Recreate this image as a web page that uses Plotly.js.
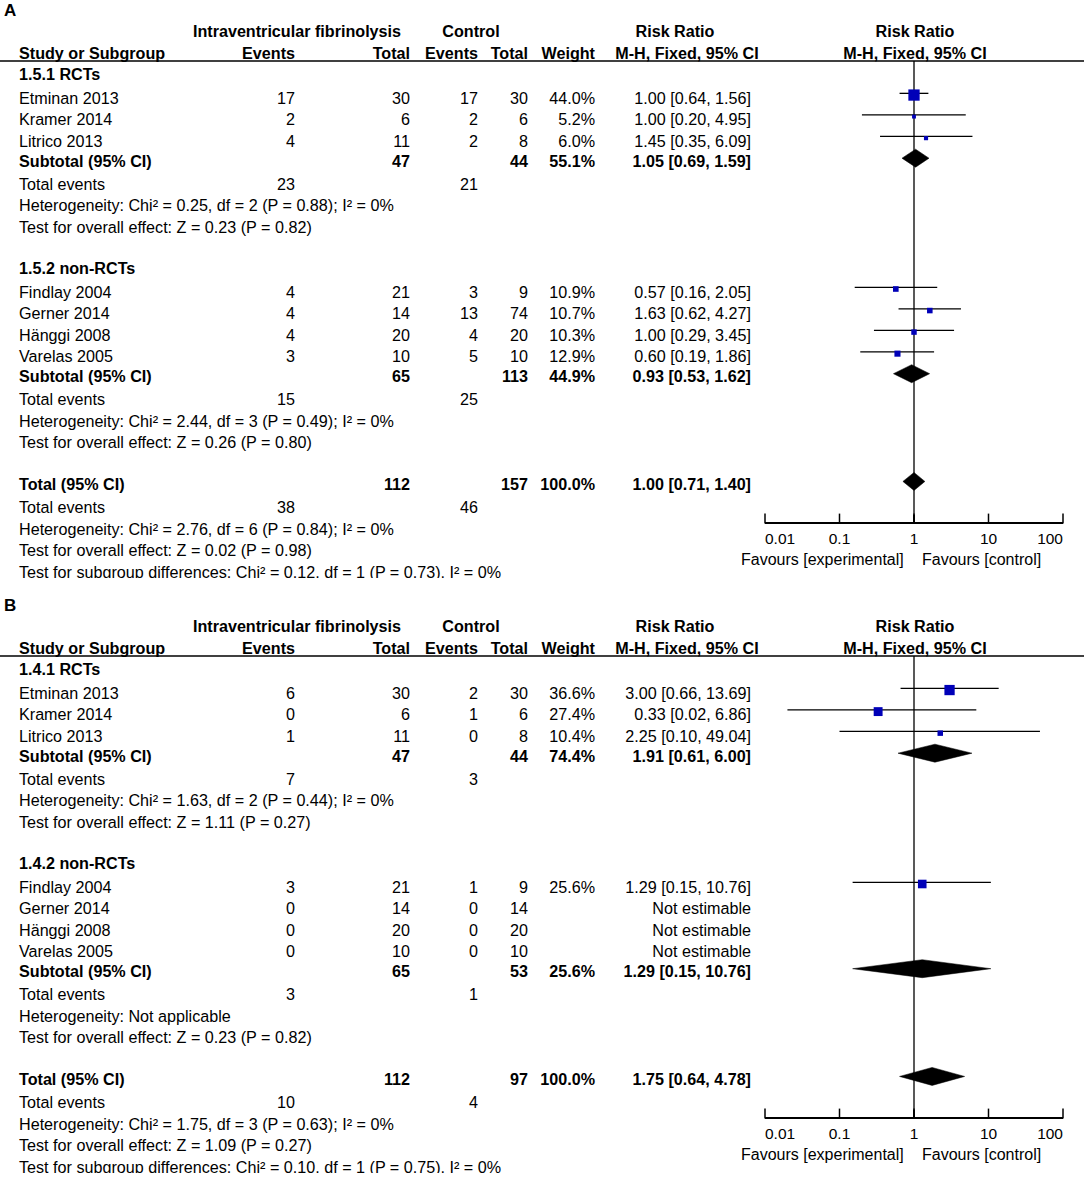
<!DOCTYPE html>
<html><head><meta charset="utf-8">
<script src="https://cdn.plot.ly/plotly-3.0.1.min.js"></script>
<style>html,body{margin:0;padding:0;background:#fff}#chart{width:1084px;height:1178px}</style>
</head><body><div id="chart"></div>
<script>
// ---------------- DATA ----------------
const studies = ['Etminan 2013','Kramer 2014','Litrico 2013','Findlay 2004','Gerner 2014','Hänggi 2008','Varelas 2005'];
const studyGroup = [0,0,0,1,1,1,1];

// Panel A
const groupLabelsA = ['1.5.1 RCTs','1.5.2 non-RCTs'];
const evExpA = [17,2,4,4,4,4,3];
const totExpA = [30,6,11,21,14,20,10];
const evCtlA = [17,2,2,3,13,4,5];
const totCtlA = [30,6,8,9,74,20,10];
const weightA = [44.0,5.2,6.0,10.9,10.7,10.3,12.9];
const rrA = [1.00,1.00,1.45,0.57,1.63,1.00,0.60];
const loA = [0.64,0.20,0.35,0.16,0.62,0.29,0.19];
const hiA = [1.56,4.95,6.09,2.05,4.27,3.45,1.86];
const subTotExpA = [47,65];
const subTotCtlA = [44,113];
const subWeightA = [55.1,44.9];
const subRrA = [1.05,0.93];
const subLoA = [0.69,0.53];
const subHiA = [1.59,1.62];
const subEvExpA = [23,15];
const subEvCtlA = [21,25];
const subHetA = ['Heterogeneity: Chi² = 0.25, df = 2 (P = 0.88); I² = 0%','Heterogeneity: Chi² = 2.44, df = 3 (P = 0.49); I² = 0%'];
const subZA = ['Test for overall effect: Z = 0.23 (P = 0.82)','Test for overall effect: Z = 0.26 (P = 0.80)'];
const totalA = {totExp:112, totCtl:157, weight:100.0, rr:1.00, lo:0.71, hi:1.40, evExp:38, evCtl:46,
  het:'Heterogeneity: Chi² = 2.76, df = 6 (P = 0.84); I² = 0%',
  z:'Test for overall effect: Z = 0.02 (P = 0.98)',
  sub:'Test for subgroup differences: Chi² = 0.12, df = 1 (P = 0.73), I² = 0%'};

// Panel B
const groupLabelsB = ['1.4.1 RCTs','1.4.2 non-RCTs'];
const evExpB = [6,0,1,3,0,0,0];
const totExpB = [30,6,11,21,14,20,10];
const evCtlB = [2,1,0,1,0,0,0];
const totCtlB = [30,6,8,9,14,20,10];
const weightB = [36.6,27.4,10.4,25.6,null,null,null];
const rrB = [3.00,0.33,2.25,1.29,null,null,null];
const loB = [0.66,0.02,0.10,0.15,null,null,null];
const hiB = [13.69,6.86,49.04,10.76,null,null,null];
const subTotExpB = [47,65];
const subTotCtlB = [44,53];
const subWeightB = [74.4,25.6];
const subRrB = [1.91,1.29];
const subLoB = [0.61,0.15];
const subHiB = [6.00,10.76];
const subEvExpB = [7,3];
const subEvCtlB = [3,1];
const subHetB = ['Heterogeneity: Chi² = 1.63, df = 2 (P = 0.44); I² = 0%','Heterogeneity: Not applicable'];
const subZB = ['Test for overall effect: Z = 1.11 (P = 0.27)','Test for overall effect: Z = 0.23 (P = 0.82)'];
const totalB = {totExp:112, totCtl:97, weight:100.0, rr:1.75, lo:0.64, hi:4.78, evExp:10, evCtl:4,
  het:'Heterogeneity: Chi² = 1.75, df = 3 (P = 0.63); I² = 0%',
  z:'Test for overall effect: Z = 1.09 (P = 0.27)',
  sub:'Test for subgroup differences: Chi² = 0.10, df = 1 (P = 0.75), I² = 0%'};

const axisTickVals = [0.01,0.1,1,10,100];
const axisTickText = ['0.01','0.1','1','10','100'];
const favLeft = 'Favours [experimental]';
const favRight = 'Favours [control]';

// ---------------- LAYOUT CONSTANTS ----------------
const W = 1084, H = 1178, ROWH = 21.55;
const FONT = '"Liberation Sans", Arial, Helvetica, sans-serif';
const FS = 16.15, TICKFS = 15.5;
const COL = {tag:4, label:19, evE:295, totE:410, evC:478, totC:528, wt:595, ci:751,
  hdrExp:297, hdrCtl:471, hdrRR:675, hdrMH:687, hdrForest:915};
const FOREST_L = 765, FOREST_R = 1063;
const SQCOL = '#0000b8';
const BOLD_SHIFT = -1.6;   // px, bold/heading rows sit slightly higher
const CI_SHIFT = -6.2, SQ_SHIFT = -4.5, DM_SHIFT = -6.0; // px offsets of forest marks
const TICKLEN = 7;
const NBSP = '\u00a0';

const fmt2 = v => v.toFixed(2);
const ciText = (rr, lo, hi) => rr == null ? 'Not estimable' : `${fmt2(rr)} [${fmt2(lo)}, ${fmt2(hi)}]`;
const pct = w => w == null ? '' : w.toFixed(1) + '%';

function buildPanel(P) {
  const cells = [];
  const add = (x, row, text, pos, bold, size) => cells.push({x, row: row + (bold ? BOLD_SHIFT / ROWH : 0),
    text: String(text), pos, bold: !!bold, size: size || FS});
  add(COL.tag, -3, P.tag, 'middle right', true, 17);
  add(COL.hdrExp, -2, 'Intraventricular fibrinolysis', 'middle center', true);
  add(COL.hdrCtl, -2, 'Control', 'middle center', true);
  add(COL.hdrRR, -2, 'Risk Ratio', 'middle center', true);
  add(COL.hdrForest, -2, 'Risk Ratio', 'middle center', true);
  add(COL.label, -1, 'Study or Subgroup', 'middle right', true);
  add(COL.evE, -1, 'Events', 'middle left', true);
  add(COL.totE, -1, 'Total', 'middle left', true);
  add(COL.evC, -1, 'Events', 'middle left', true);
  add(COL.totC, -1, 'Total', 'middle left', true);
  add(COL.wt, -1, 'Weight', 'middle left', true);
  add(COL.hdrMH, -1, 'M-H, Fixed, 95% CI', 'middle center', true);
  add(COL.hdrForest, -1, 'M-H, Fixed, 95% CI', 'middle center', true);

  const ciX = [], ciY = [], sqX = [], sqY = [], sqS = [], diamonds = [];
  let r = 0;
  for (let g = 0; g < P.groups.length; g++) {
    add(COL.label, r, P.groups[g], 'middle right', true); r++;
    for (let i = 0; i < studies.length; i++) {
      if (studyGroup[i] !== g) continue;
      add(COL.label, r, studies[i], 'middle right');
      add(COL.evE, r, P.evExp[i], 'middle left');
      add(COL.totE, r, P.totExp[i], 'middle left');
      add(COL.evC, r, P.evCtl[i], 'middle left');
      add(COL.totC, r, P.totCtl[i], 'middle left');
      if (P.weight[i] != null) add(COL.wt, r, pct(P.weight[i]), 'middle left');
      add(COL.ci, r, ciText(P.rr[i], P.lo[i], P.hi[i]), 'middle left');
      if (P.rr[i] != null) {
        const yl = r + CI_SHIFT / ROWH;
        ciX.push(P.lo[i], P.hi[i], null); ciY.push(yl, yl, null);
        sqX.push(P.rr[i]); sqY.push(r + SQ_SHIFT / ROWH); sqS.push(1.7 * Math.sqrt(P.weight[i]));
      }
      r++;
    }
    add(COL.label, r, 'Subtotal (95% CI)', 'middle right', true);
    add(COL.totE, r, P.subTotExp[g], 'middle left', true);
    add(COL.totC, r, P.subTotCtl[g], 'middle left', true);
    add(COL.wt, r, pct(P.subWeight[g]), 'middle left', true);
    add(COL.ci, r, ciText(P.subRr[g], P.subLo[g], P.subHi[g]), 'middle left', true);
    diamonds.push({rr: P.subRr[g], lo: P.subLo[g], hi: P.subHi[g], row: r + DM_SHIFT / ROWH});
    r++;
    add(COL.label, r, 'Total events', 'middle right');
    add(COL.evE, r, P.subEvExp[g], 'middle left');
    add(COL.evC, r, P.subEvCtl[g], 'middle left'); r++;
    add(COL.label, r, P.subHet[g], 'middle right'); r++;
    add(COL.label, r, P.subZ[g], 'middle right'); r++;
    r++;
  }
  const T = P.total;
  add(COL.label, r, 'Total (95% CI)', 'middle right', true);
  add(COL.totE, r, T.totExp, 'middle left', true);
  add(COL.totC, r, T.totCtl, 'middle left', true);
  add(COL.wt, r, pct(T.weight), 'middle left', true);
  add(COL.ci, r, ciText(T.rr, T.lo, T.hi), 'middle left', true);
  diamonds.push({rr: T.rr, lo: T.lo, hi: T.hi, row: r + DM_SHIFT / ROWH});
  r++;
  add(COL.label, r, 'Total events', 'middle right');
  add(COL.evE, r, T.evExp, 'middle left');
  add(COL.evC, r, T.evCtl, 'middle left'); r++;
  add(COL.label, r, T.het, 'middle right'); r++;
  add(COL.label, r, T.z, 'middle right'); r++;
  add(COL.label, r, T.sub, 'middle right'); r++;

  const groups = {};
  cells.forEach(c => {
    const k = c.pos + '|' + c.size;
    (groups[k] = groups[k] || {pos: c.pos, size: c.size, x: [], y: [], t: []});
    groups[k].x.push(c.x); groups[k].y.push(c.row); groups[k].t.push(c.bold ? '<b>' + c.text + '</b>' : c.text);
  });
  const traces = [];
  Object.values(groups).forEach(gr => traces.push({
    type: 'scatter', mode: 'text', x: gr.x, y: gr.y, text: gr.t, textposition: gr.pos,
    textfont: {family: FONT, size: gr.size, color: '#000'}, xaxis: 'x', yaxis: P.ytext,
    cliponaxis: true, hoverinfo: 'skip', showlegend: false
  }));

  const rowOf = px => (px - P.row0) / ROWH;
  traces.push({type: 'scatter', mode: 'lines', x: [1, 1], y: [rowOf(P.hdrLine), rowOf(P.axisPx)],
    line: {color: '#222', width: 1.5}, xaxis: P.xf, yaxis: P.yf, hoverinfo: 'skip', showlegend: false});
  // upward tick marks at the axis tick values
  traces.push({type: 'scatter', mode: 'markers', x: axisTickVals, y: axisTickVals.map(() => rowOf(P.axisPx - TICKLEN / 2)),
    marker: {symbol: 'line-ns', size: TICKLEN, color: '#000', line: {width: 1.5, color: '#000'}},
    xaxis: P.xf, yaxis: P.yf, cliponaxis: false, hoverinfo: 'skip', showlegend: false});
  // invisible anchor point so the overlay axis (last tick label) is drawn
  traces.push({type: 'scatter', mode: 'markers', x: [axisTickVals[axisTickVals.length - 1]], y: [rowOf(P.axisPx - 1)],
    marker: {size: 1, opacity: 0}, xaxis: P.xo, yaxis: P.yf, hoverinfo: 'skip', showlegend: false});
  traces.push({type: 'scatter', mode: 'lines', x: ciX, y: ciY, connectgaps: false,
    line: {color: '#000', width: 1.3}, xaxis: P.xf, yaxis: P.yf, hoverinfo: 'skip', showlegend: false});
  traces.push({type: 'scatter', mode: 'markers', x: sqX, y: sqY,
    marker: {symbol: 'square', size: sqS, color: SQCOL, opacity: 1, line: {width: 0}},
    xaxis: P.xf, yaxis: P.yf, cliponaxis: false, hoverinfo: 'skip', showlegend: false});
  const dh = 9 / ROWH;
  diamonds.forEach(d => traces.push({type: 'scatter', mode: 'lines',
    x: [d.lo, d.rr, d.hi, d.rr, d.lo], y: [d.row, d.row - dh, d.row, d.row + dh, d.row],
    fill: 'toself', fillcolor: '#000', line: {color: '#000', width: 0.5},
    xaxis: P.xf, yaxis: P.yf, hoverinfo: 'skip', showlegend: false}));
  return traces;
}

const panelA = {tag: 'A', ytext: 'y', yf: 'y3', xf: 'x2', xo: 'x4', row0: 78, hdrLine: 61, axisPx: 522, favPx: 559, domTop: 0, domBot: 578,
  groups: groupLabelsA, evExp: evExpA, totExp: totExpA, evCtl: evCtlA, totCtl: totCtlA, weight: weightA,
  rr: rrA, lo: loA, hi: hiA, subTotExp: subTotExpA, subTotCtl: subTotCtlA, subWeight: subWeightA,
  subRr: subRrA, subLo: subLoA, subHi: subHiA, subEvExp: subEvExpA, subEvCtl: subEvCtlA,
  subHet: subHetA, subZ: subZA, total: totalA};
const panelB = {tag: 'B', ytext: 'y2', yf: 'y4', xf: 'x3', xo: 'x5', row0: 673, hdrLine: 656, axisPx: 1117, favPx: 1154, domTop: 595, domBot: 1173,
  groups: groupLabelsB, evExp: evExpB, totExp: totExpB, evCtl: evCtlB, totCtl: totCtlB, weight: weightB,
  rr: rrB, lo: loB, hi: hiB, subTotExp: subTotExpB, subTotCtl: subTotCtlB, subWeight: subWeightB,
  subRr: subRrB, subLo: subLoB, subHi: subHiB, subEvExp: subEvExpB, subEvCtl: subEvCtlB,
  subHet: subHetB, subZ: subZB, total: totalB};

const data = [...buildPanel(panelA), ...buildPanel(panelB)];

function rowAxis(P, top, bot) {
  return {domain: [1 - bot / H, 1 - top / H], range: [(bot - P.row0) / ROWH, (top - P.row0) / ROWH],
    visible: false, fixedrange: true};
}
const LAST = axisTickVals.length - 1;
// first label starts at its tick (padded), last label is drawn by an overlay axis, right-aligned at its tick
const mainText = axisTickText.map((t, i) => i === 0 ? NBSP.repeat(7) + t : (i === LAST ? '' : t));
function forestAxis(P) {
  return {type: 'log', domain: [FOREST_L / W, FOREST_R / W], range: [-2, 2], anchor: P.yf, side: 'bottom',
    showline: true, linecolor: '#000', linewidth: 1.5,
    ticks: 'inside', ticklen: TICKLEN, tickwidth: 1.5, tickcolor: '#000',
    tickmode: 'array', tickvals: axisTickVals, ticktext: mainText, ticklabeloverflow: 'allow',
    tickfont: {family: FONT, size: TICKFS, color: '#000'}, ticklabelstandoff: 2,
    showgrid: false, zeroline: false, fixedrange: true};
}
function overlayAxis(P) {
  return {type: 'log', overlaying: P.xf, anchor: P.yf, side: 'bottom', range: [-2, 2],
    showline: false, ticks: '', tickmode: 'array', tickvals: [axisTickVals[LAST]], ticktext: [axisTickText[LAST]],
    ticklabelposition: 'outside left', ticklabelstandoff: 5, ticklabeloverflow: 'allow',
    tickfont: {family: FONT, size: TICKFS, color: '#000'},
    showgrid: false, zeroline: false, fixedrange: true};
}

const shapes = [panelA, panelB].map(P => ({type: 'line', xref: 'paper', yref: 'paper',
  x0: 0, x1: 1, y0: 1 - P.hdrLine / H, y1: 1 - P.hdrLine / H, line: {color: '#000', width: 1.5}}));

const annotations = [];
[panelA, panelB].forEach(P => {
  const xOne = (FOREST_L + (FOREST_R - FOREST_L) / 2) / W;
  annotations.push({xref: 'paper', yref: 'paper', x: xOne, y: 1 - P.favPx / H, xanchor: 'right', yanchor: 'middle',
    xshift: -8, text: favLeft, showarrow: false, font: {family: FONT, size: 16, color: '#000'}});
  annotations.push({xref: 'paper', yref: 'paper', x: xOne, y: 1 - P.favPx / H, xanchor: 'left', yanchor: 'middle',
    xshift: 6, text: favRight, showarrow: false, font: {family: FONT, size: 16, color: '#000'}});
});

const layout = {
  width: W, height: H, margin: {l: 0, r: 0, t: 0, b: 0, pad: 0},
  paper_bgcolor: '#fff', plot_bgcolor: 'rgba(0,0,0,0)', showlegend: false, hovermode: false,
  font: {family: FONT, size: FS, color: '#000'},
  xaxis: {domain: [0, 1], range: [0, W], visible: false, fixedrange: true},
  yaxis: rowAxis(panelA, panelA.domTop, panelA.domBot),
  yaxis2: rowAxis(panelB, panelB.domTop, panelB.domBot),
  yaxis3: Object.assign(rowAxis(panelA, panelA.domTop, panelA.axisPx), {anchor: 'x2'}),
  yaxis4: Object.assign(rowAxis(panelB, panelB.domTop, panelB.axisPx), {anchor: 'x3'}),
  xaxis2: forestAxis(panelA),
  xaxis3: forestAxis(panelB),
  xaxis4: overlayAxis(panelA),
  xaxis5: overlayAxis(panelB),
  shapes, annotations
};

Plotly.newPlot('chart', data, layout, {staticPlot: true, displayModeBar: false});
</script>
</body></html>
